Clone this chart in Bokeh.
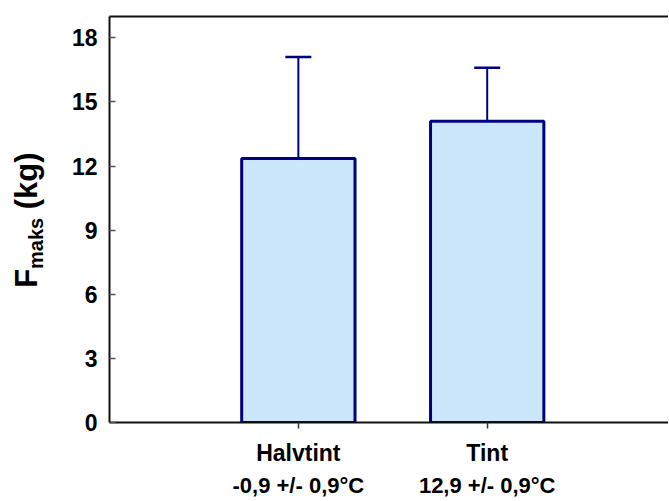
from math import pi
from bokeh.plotting import figure
from bokeh.layouts import row
from bokeh.models import (ColumnDataSource, FixedTicker, LinearAxis, Range1d,
                          Whisker, TeeHead)
from bokeh.core.properties import value
from bokeh.embed import file_html
from bokeh.resources import INLINE

# ---- data ----
categories = ["Halvtint", "Tint"]
temperatures = ["-0,9 +/- 0,9°C", "12,9 +/- 0,9°C"]
positions = [1, 2]
means = [12.35, 14.1]
sd_upper = [4.75, 2.5]
y_ticks = [0, 3, 6, 9, 12, 15, 18]
y_title = ["F", "maks", "(kg)"]

FONT = "Liberation Sans"
NAVY = "#000080"
FILL = "#cce7fb"

# ---- layout ----
H = 500
LW = 56                 # width of the strip holding the y-axis title
W = 668 - LW
BL, BT = 109 - LW, 16
FRAME_H = 407
BB = H - BT - FRAME_H
X_END, Y_END = 2.96, 19

src = ColumnDataSource(dict(
    x=positions, top=means,
    upper=[m + s for m, s in zip(means, sd_upper)],
))

p = figure(width=W, height=H, output_backend="svg", toolbar_location=None,
           x_range=Range1d(0, X_END), y_range=Range1d(0, Y_END),
           min_border_left=BL, min_border_right=0, min_border_top=BT,
           min_border_bottom=BB, x_axis_location=None, y_axis_location=None)
p.outline_line_color = None
p.grid.visible = False

# bars
p.vbar(x="x", top="top", bottom=0, width=0.6, source=src,
       fill_color=FILL, line_color=NAVY, line_width=3)

# error bars (upper only)
p.add_layout(Whisker(base="x", lower="top", upper="upper", source=src,
                     line_color=NAVY, line_width=2, lower_head=None,
                     upper_head=TeeHead(size=26, line_color=NAVY, line_width=2.5)))

# left axis
ya = LinearAxis(ticker=FixedTicker(ticks=y_ticks))
ya.axis_line_width = 2
ya.axis_line_color = "#111111"
ya.major_tick_in = 6
ya.major_tick_out = 0
ya.major_tick_line_width = 1.5
ya.major_tick_line_color = "#555555"
ya.minor_tick_line_color = None
ya.major_label_text_font = FONT
ya.major_label_text_font_style = "bold"
ya.major_label_text_font_size = "23px"
ya.major_label_text_color = "black"
ya.major_label_standoff = 12
p.add_layout(ya, "left")

# bottom axis: category names
xa = LinearAxis(ticker=FixedTicker(ticks=positions))
xa.major_label_overrides = {pos: c for pos, c in zip(positions, categories)}
xa.axis_line_width = 2
xa.axis_line_color = "#111111"
xa.major_tick_in = 0
xa.major_tick_out = 6
xa.major_tick_line_width = 1.5
xa.major_tick_line_color = "#333333"
xa.minor_tick_line_color = None
xa.major_label_text_font = FONT
xa.major_label_text_font_style = "bold"
xa.major_label_text_font_size = "23px"
xa.major_label_text_color = "black"
xa.major_label_standoff = 11
p.add_layout(xa, "below")

# second row of x labels: temperatures
xa2 = LinearAxis(ticker=FixedTicker(ticks=positions))
xa2.major_label_overrides = {pos: t for pos, t in zip(positions, temperatures)}
xa2.axis_line_color = None
xa2.major_tick_line_color = None
xa2.major_tick_in = 0
xa2.major_tick_out = 0
xa2.minor_tick_line_color = None
xa2.major_label_text_font = FONT
xa2.major_label_text_font_style = "bold"
xa2.major_label_text_font_size = "22px"
xa2.major_label_text_color = "black"
xa2.major_label_standoff = 4
p.add_layout(xa2, "below")

# top frame line
ta = LinearAxis(ticker=FixedTicker(ticks=[]))
ta.axis_line_width = 2
ta.axis_line_color = "#111111"
ta.major_tick_in = 0
ta.major_tick_out = 0
ta.minor_tick_line_color = None
ta.major_label_standoff = 0
ta.major_label_text_font_size = "0px"
p.add_layout(ta, "above")

# ---- y-axis title strip: F_maks (kg), rotated ----
# (its frame is aligned with the main frame; units are pixels above the frame bottom)
t = figure(width=LW, height=H, output_backend="svg", toolbar_location=None,
           x_range=Range1d(0, LW), y_range=Range1d(0, FRAME_H),
           min_border_left=0, min_border_right=0, min_border_top=0,
           min_border_bottom=0, x_axis_location=None, y_axis_location=None)
t.outline_line_color = None
t.grid.visible = False

main_px, sub_px = 31, 20
y0 = 135                         # start of "F" above the frame bottom
x_main, x_sub = 26, 35.5         # baselines (strip pixels)
adv = [0.611 * main_px, 2.557 * sub_px + 0.278 * main_px]
common = dict(angle=pi / 2, text_align="left", text_baseline="alphabetic",
              text_font=value(FONT), text_font_style="bold", text_color="black")
t.text(x=[x_main], y=[y0], text=[y_title[0]],
       text_font_size=value(f"{main_px}px"), **common)
t.text(x=[x_sub], y=[y0 + adv[0]], text=[y_title[1]],
       text_font_size=value(f"{sub_px}px"), **common)
t.text(x=[x_main], y=[y0 + adv[0] + adv[1]], text=[y_title[2]],
       text_font_size=value(f"{main_px}px"), **common)

layout = row(t, p, spacing=0)
open("out.html", "w").write(file_html(layout, INLINE))
